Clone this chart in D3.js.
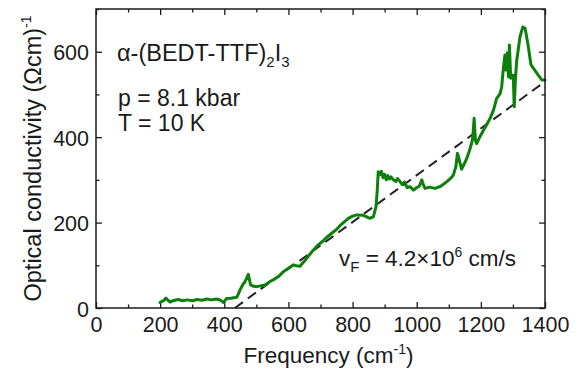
<!DOCTYPE html>
<html>
<head>
<meta charset="utf-8">
<script src="https://cdn.jsdelivr.net/npm/d3@7"></script>
<style>
  html, body { margin: 0; padding: 0; background: #fff; }
  svg text { font-family: Arial, "Liberation Sans", Helvetica, sans-serif; fill: #1a1a1a; }
</style>
</head>
<body>
<svg id="chart" width="586" height="369"></svg>
<script>
// Optical conductivity spectrum (frequency in cm^-1, sigma in (Ohm cm)^-1)
const frequency = [
  200, 210, 218, 225, 231, 240, 256, 270, 285, 300, 315, 330, 345, 360, 375, 387, 397, 407, 420, 439,
  449, 458, 465, 475, 482, 490, 501, 515, 527, 543, 555, 568, 584, 600, 615, 625, 636, 650, 665, 678,
  690, 705, 719, 735, 750, 765, 787, 800, 813, 834, 854, 865, 873, 877, 880, 885, 890, 895, 900, 905,
  910, 915, 920, 927, 935, 940, 948, 955, 962, 970, 979, 990, 1000, 1008, 1016, 1020, 1026, 1040, 1057, 1075,
  1094, 1105, 1114, 1122, 1127, 1130, 1135, 1140, 1150, 1158, 1165, 1171, 1175, 1179, 1183, 1187, 1197, 1203, 1215, 1229,
  1240, 1249, 1260, 1265, 1270, 1275, 1278, 1282, 1286, 1289, 1293, 1297, 1301, 1304, 1308, 1312, 1322, 1331, 1338, 1348,
  1356, 1364, 1379, 1390, 1400
];
const conductivity = [
  13, 17, 23, 18, 14, 17, 20, 17, 19, 17, 20, 18, 21, 19, 21, 19, 13, 22, 23, 25,
  42, 55, 62, 79, 54, 51, 50, 52, 54, 62, 67, 73, 85, 93, 101, 99, 98, 110, 124, 136,
  146, 155, 165, 175, 184, 196, 210, 215, 218, 217, 210, 214, 237, 276, 319, 312, 320, 305, 313, 300,
  310, 302, 307, 300, 296, 303, 296, 289, 295, 282, 284, 276, 282, 285, 300, 290, 280, 283, 280, 285,
  296, 303, 311, 330, 362, 355, 340, 325, 340, 354, 370, 385, 400, 444, 392, 385, 401, 409, 425, 444,
  465, 490, 502, 518, 560, 592, 557, 597, 541, 616, 538, 545, 545, 471, 540, 580, 635, 658, 655, 612,
  570, 561, 545, 534, 534
];

// Linear Dirac-cone fit: two end points (frequency, conductivity)
const fitFrequency = [433, 1400];
const fitConductivity = [0, 530];

// Axis ticks
const xMajorTicks = [0, 200, 400, 600, 800, 1000, 1200, 1400];
const xMinorTicks = [100, 300, 500, 700, 900, 1100, 1300];
const yMajorTicks = [0, 200, 400, 600];
const yMinorTicks = [100, 300, 500, 700];

const svg = d3.select("#chart");
const margin = { left: 96, right: 41, top: 9, bottom: 61 };
const W = 586, H = 369;
const x = d3.scaleLinear().domain([0, 1400]).range([margin.left, W - margin.right]);
const y = d3.scaleLinear().domain([0, 700]).range([H - margin.bottom, margin.top]);

const majorLen = 6, minorLen = 3.5;
const tickFont = "21.5px";

// Bottom axis with labels
const gB = svg.append("g").attr("transform", `translate(0,${y(0)})`)
  .call(d3.axisBottom(x).tickValues(xMajorTicks).tickSize(-majorLen).tickPadding(9).tickFormat(d3.format("d")));
const gBm = svg.append("g").attr("transform", `translate(0,${y(0)})`)
  .call(d3.axisBottom(x).tickValues(xMinorTicks).tickSize(-minorLen).tickFormat(""));
// Top axis (ticks only)
const gT = svg.append("g").attr("transform", `translate(0,${y(700)})`)
  .call(d3.axisTop(x).tickValues(xMajorTicks).tickSize(-majorLen).tickFormat(""));
const gTm = svg.append("g").attr("transform", `translate(0,${y(700)})`)
  .call(d3.axisTop(x).tickValues(xMinorTicks).tickSize(-minorLen).tickFormat(""));
// Left axis with labels
const gL = svg.append("g").attr("transform", `translate(${x(0)},0)`)
  .call(d3.axisLeft(y).tickValues(yMajorTicks).tickSize(-majorLen).tickPadding(7).tickFormat(d3.format("d")));
const gLm = svg.append("g").attr("transform", `translate(${x(0)},0)`)
  .call(d3.axisLeft(y).tickValues(yMinorTicks).tickSize(-minorLen).tickFormat(""));
// Right axis (ticks only)
const gR = svg.append("g").attr("transform", `translate(${x(1400)},0)`)
  .call(d3.axisRight(y).tickValues(yMajorTicks).tickSize(-majorLen).tickFormat(""));
const gRm = svg.append("g").attr("transform", `translate(${x(1400)},0)`)
  .call(d3.axisRight(y).tickValues(yMinorTicks).tickSize(-minorLen).tickFormat(""));

svg.selectAll(".domain").remove();
svg.selectAll(".tick line").attr("stroke", "#1a1a1a").attr("stroke-width", 1.3);
svg.selectAll(".tick text").attr("font-size", tickFont).attr("fill", "#1a1a1a")
  .attr("font-family", 'Arial, "Liberation Sans", sans-serif');
gL.selectAll(".tick text").attr("dy", "0.38em");

// Fit line (dashed)
const fitPts = fitFrequency.map((f, i) => [f, fitConductivity[i]]);
svg.append("path")
  .datum(fitPts)
  .attr("d", d3.line().x(d => x(d[0])).y(d => y(d[1])))
  .attr("fill", "none").attr("stroke", "#222").attr("stroke-width", 2)
  .attr("stroke-dasharray", "10,6");

// Spectrum
const pts = frequency.map((f, i) => [f, conductivity[i]]);
svg.append("path")
  .datum(pts)
  .attr("d", d3.line().x(d => x(d[0])).y(d => y(d[1])))
  .attr("fill", "none").attr("stroke", "#0b800b").attr("stroke-width", 3)
  .attr("stroke-linejoin", "round").attr("stroke-linecap", "round");

// Frame
svg.append("rect")
  .attr("x", x(0)).attr("y", y(700))
  .attr("width", x(1400) - x(0)).attr("height", y(0) - y(700))
  .attr("fill", "none").attr("stroke", "#1a1a1a").attr("stroke-width", 1.5);

// Axis titles
const xt = svg.append("text").attr("x", (x(0) + x(1400)) / 2 + 8).attr("y", 363)
  .attr("text-anchor", "middle").attr("font-size", "22.5px");
xt.append("tspan").text("Frequency (cm");
xt.append("tspan").attr("font-size", "14px").attr("dy", "-9").text("-1");
xt.append("tspan").attr("dy", "9").text(")");

const yt = svg.append("text")
  .attr("transform", `translate(41,${(y(0) + y(700)) / 2}) rotate(-90)`)
  .attr("text-anchor", "middle").attr("font-size", "23.5px");
yt.append("tspan").text("Optical conductivity (Ωcm)");
yt.append("tspan").attr("font-size", "14px").attr("dy", "-10").text("-1");

// Annotations
const title = svg.append("text").attr("x", 117).attr("y", 61).attr("font-size", "23.5px");
title.append("tspan").text("α-(BEDT-TTF)");
title.append("tspan").attr("font-size", "15px").attr("dy", "6").text("2");
title.append("tspan").attr("dy", "-6").text("I");
title.append("tspan").attr("font-size", "15px").attr("dy", "6").text("3");

svg.append("text").attr("x", 118).attr("y", 106).attr("font-size", "23px").text("p = 8.1 kbar");
svg.append("text").attr("x", 118).attr("y", 131).attr("font-size", "23px").text("T = 10 K");

const vf = svg.append("text").attr("x", 339).attr("y", 266).attr("font-size", "22.5px");
vf.append("tspan").text("v");
vf.append("tspan").attr("font-size", "15px").attr("dy", "6").text("F");
vf.append("tspan").attr("dy", "-6").text(" = 4.2×10");
vf.append("tspan").attr("font-size", "14px").attr("dy", "-9").text("6");
vf.append("tspan").attr("dy", "9").text(" cm/s");
</script>
</body>
</html>
